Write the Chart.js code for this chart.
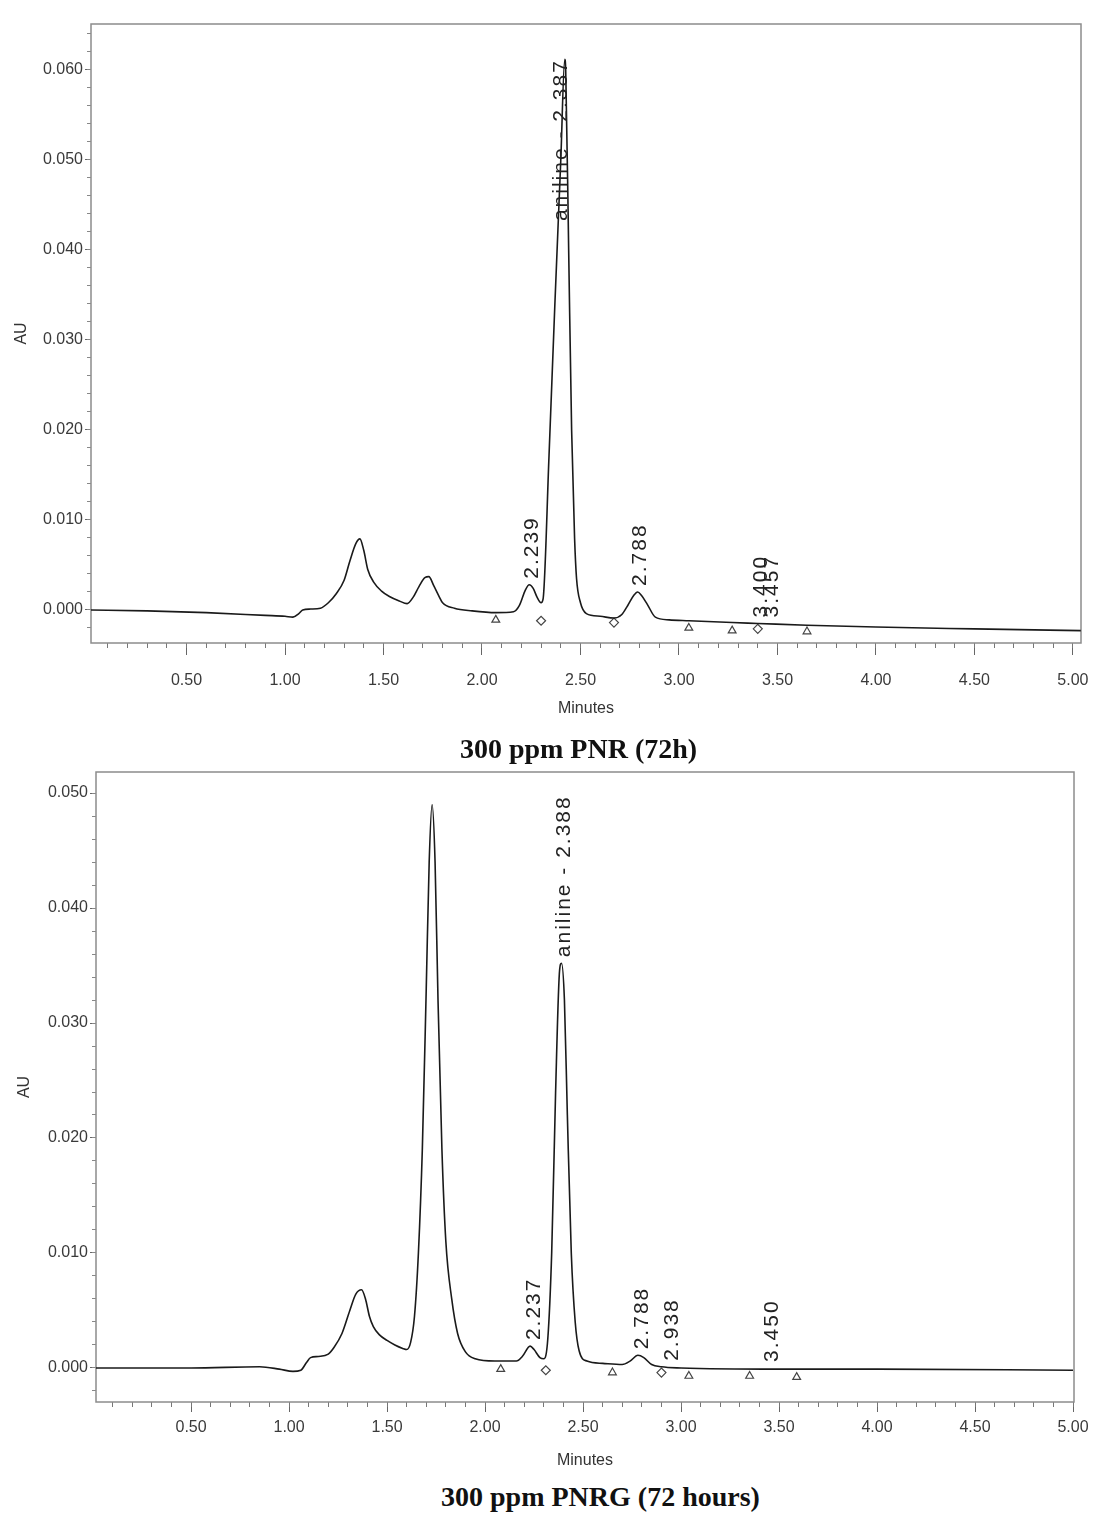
<!DOCTYPE html>
<html>
<head>
<meta charset="utf-8">
<script src="https://cdn.jsdelivr.net/npm/chart.js@4.4.1/dist/chart.umd.min.js"></script>
<style>
    body { margin: 0; background: #fff; width: 1093px; height: 1517px; position: relative; overflow: hidden; }
    .panel { position: absolute; left: 0; width: 1093px; }
    .titulo { position: absolute; width: 1093px; text-align: center; font: bold 28px "Liberation Serif", "Times New Roman", serif; line-height: 28px; color: #111; }
</style>
</head>
<body>
<div class="panel" style="top:0; height:730px;"><canvas id="grafico1" width="1093" height="730"></canvas></div>
<div class="panel" style="top:740px; height:740px;"><canvas id="grafico2" width="1093" height="740"></canvas></div>
<div class="titulo" style="top:735px; left:32px;">300 ppm PNR (72h)</div>
<div class="titulo" style="top:1483px; left:54px;">300 ppm PNRG (72 hours)</div>

<script>
// Cromatograma 1: 300 ppm PNR (72h)
const tiemposPNR = [0.00, 0.30, 0.60, 0.90, 1.00, 1.04, 1.07, 1.09, 1.13, 1.18, 1.22, 1.26, 1.30, 1.33, 1.36, 1.38, 1.40, 1.42, 1.45, 1.49,
    1.53, 1.58, 1.62, 1.65, 1.68, 1.71, 1.73, 1.755, 1.78, 1.80, 1.86, 1.95, 2.07, 2.16, 2.19, 2.22, 2.24, 2.26, 2.28, 2.30,
    2.31, 2.34, 2.37, 2.40, 2.42, 2.425, 2.44, 2.455, 2.47, 2.48, 2.50, 2.53, 2.60, 2.67, 2.71, 2.74, 2.77, 2.79, 2.81, 2.84,
    2.88, 2.95, 3.05, 3.27, 3.40, 3.65, 4.00, 4.50, 5.04];
const auPNR = [0.0000, -0.0001, -0.0003, -0.0006, -0.0007, -0.0008, -0.0004, 0.0000, 0.0001, 0.0002, 0.0008, 0.0018, 0.0033, 0.0055, 0.0074, 0.0079, 0.0066, 0.0045, 0.0031, 0.0021,
    0.0015, 0.0010, 0.0007, 0.0014, 0.0026, 0.0036, 0.0037, 0.0027, 0.0016, 0.0008, 0.0002, -0.0001, -0.0003, -0.0002, 0.0005, 0.0022, 0.0028, 0.0024, 0.0014, 0.0008,
    0.0012, 0.0170, 0.0340, 0.0500, 0.0612, 0.0600, 0.0400, 0.0200, 0.0080, 0.0035, 0.0008, -0.0004, -0.0007, -0.0009, -0.0005, 0.0005, 0.0016, 0.0020, 0.0016, 0.0006,
    -0.0008, -0.0011, -0.0012, -0.0014, -0.0015, -0.0017, -0.0019, -0.0021, -0.0023];
const marcasPNR_t = [2.07, 2.30, 2.67, 3.05, 3.27, 3.40, 3.65];
const marcasPNR_au = [-0.0011, -0.0012, -0.0014, -0.0020, -0.0023, -0.0021, -0.0024];
const marcasPNR_tipo = ['triangulo', 'rombo', 'rombo', 'triangulo', 'triangulo', 'rombo', 'triangulo'];
const picosPNR_texto = ['2.239', 'aniline - 2.387', '2.788', '3.400', '3.457'];
const picosPNR_t = [2.239, 2.387, 2.788, 3.400, 3.457];

// Cromatograma 2: 300 ppm PNRG (72 hours)
const tiemposPNRG = [0.00, 0.50, 0.85, 0.95, 1.02, 1.06, 1.09, 1.11, 1.15, 1.20, 1.23, 1.27, 1.31, 1.34, 1.37, 1.39, 1.41, 1.43, 1.46, 1.50,
    1.54, 1.58, 1.60, 1.62, 1.64, 1.66, 1.68, 1.70, 1.715, 1.73, 1.745, 1.76, 1.78, 1.80, 1.83, 1.86, 1.90, 1.95, 2.05, 2.16,
    2.19, 2.23, 2.25, 2.28, 2.30, 2.32, 2.34, 2.36, 2.38, 2.39, 2.405, 2.42, 2.44, 2.46, 2.48, 2.52, 2.60, 2.70, 2.74, 2.78,
    2.81, 2.85, 2.90, 3.00, 3.50, 4.00, 5.00];
const auPNRG = [0.0000, 0.0000, 0.0001, -0.0001, -0.0003, -0.0002, 0.0005, 0.0009, 0.0010, 0.0012, 0.0018, 0.0030, 0.0050, 0.0064, 0.0068, 0.0060, 0.0045, 0.0036, 0.0029, 0.0024,
    0.0020, 0.0017, 0.0016, 0.0022, 0.0045, 0.0100, 0.0190, 0.0330, 0.0440, 0.0490, 0.0440, 0.0320, 0.0190, 0.0110, 0.0060, 0.0030, 0.0014, 0.0008, 0.0006, 0.0006,
    0.0010, 0.0019, 0.0016, 0.0009, 0.0008, 0.0025, 0.0100, 0.0240, 0.0345, 0.0352, 0.0320, 0.0220, 0.0100, 0.0040, 0.0015, 0.0006, 0.0004, 0.0003, 0.0006, 0.0011,
    0.0009, 0.0003, 0.0001, 0.0000, -0.0001, -0.0001, -0.0002];
const marcasPNRG_t = [2.08, 2.31, 2.65, 2.90, 3.04, 3.35, 3.59];
const marcasPNRG_au = [-0.0001, -0.0002, -0.0004, -0.0004, -0.0007, -0.0007, -0.0008];
const marcasPNRG_tipo = ['triangulo', 'rombo', 'triangulo', 'rombo', 'triangulo', 'triangulo', 'triangulo'];
const picosPNRG_texto = ['2.237', 'aniline - 2.388', '2.788', '2.938', '3.450'];
const picosPNRG_t = [2.237, 2.388, 2.788, 2.938, 3.450];

const fuente = '"Liberation Sans", Arial, sans-serif';
const colorTexto = '#3a3a3a';

// altura maxima de la traza cerca de un tiempo dado
const cimaCerca = (tiempos, valores, t, ventana) => {
    let max = -Infinity;
    tiempos.forEach((ti, i) => {
        if (Math.abs(ti - t) <= ventana && valores[i] > max) max = valores[i];
    });
    if (max === -Infinity) {
        const j = tiempos.findIndex(ti => ti > t);
        max = valores[Math.max(j - 1, 0)];
    }
    return max;
};

const crearPlugin = (tiempos, valores, textos, tiemposPico) => ({
    id: 'marcoYPicos',
    beforeDatasetsDraw(chart) {
        const { ctx, chartArea: a } = chart;
        ctx.save();
        ctx.strokeStyle = '#8c8c8c';
        ctx.lineWidth = 1.5;
        ctx.strokeRect(a.left, a.top, a.right - a.left, a.bottom - a.top);
        ctx.restore();
    },
    afterDatasetsDraw(chart) {
        const { ctx, chartArea: a, scales } = chart;
        ctx.save();
        ctx.font = '21px ' + fuente;
        if ('letterSpacing' in ctx) ctx.letterSpacing = '2px';
        ctx.fillStyle = '#222';
        ctx.textBaseline = 'middle';
        ctx.textAlign = 'left';
        textos.forEach((texto, i) => {
            const t = tiemposPico[i];
            const cima = cimaCerca(tiempos, valores, t, 0.04);
            const px = scales.x.getPixelForValue(t) + 3;
            const py = scales.y.getPixelForValue(cima);
            const largo = ctx.measureText(texto).width;
            let inicio = py - 6;
            if (inicio - largo < a.top + 4) inicio = py + largo;
            ctx.save();
            ctx.translate(px, inicio);
            ctx.rotate(-Math.PI / 2);
            ctx.fillText(texto, 0, 0);
            ctx.restore();
        });
        ctx.restore();
    }
});

// quita el relleno que Chart.js reserva para las etiquetas de los extremos
const sinRelleno = s => { s.paddingLeft = 0; s.paddingRight = 0; s.paddingTop = 0; s.paddingBottom = 0; };

const crearCromatograma = (id, tiempos, valores, marcasT, marcasAU, marcasTipo, textos, tiemposPico, ejes) => {
    const ctx = document.getElementById(id).getContext('2d');
    return new Chart(ctx, {
        type: 'line',
        data: {
            datasets: [{
                label: 'AU',
                data: tiempos.map((t, i) => ({ x: t, y: valores[i] })),
                borderColor: '#1a1a1a',
                borderWidth: 1.6,
                pointRadius: 0,
                cubicInterpolationMode: 'monotone',
                fill: false
            }, {
                type: 'scatter',
                label: 'marcas',
                data: marcasT.map((t, i) => ({ x: t, y: marcasAU[i] })),
                pointStyle: marcasTipo.map(m => m === 'triangulo' ? 'triangle' : 'rectRot'),
                pointRadius: 4.5,
                borderColor: '#444',
                backgroundColor: '#fff',
                borderWidth: 1.2
            }]
        },
        options: {
            responsive: false,
            animation: false,
            layout: { padding: { top: ejes.arriba, right: ejes.derecha, left: 0, bottom: 0 } },
            plugins: { legend: { display: false }, tooltip: { enabled: false } },
            scales: {
                x: {
                    type: 'linear', position: 'bottom', weight: 1,
                    min: ejes.xMin, max: ejes.xMax,
                    ticks: {
                        stepSize: 0.5, includeBounds: false, autoSkip: false, maxRotation: 0,
                        padding: ejes.xPad, color: colorTexto, font: { size: 16, family: fuente },
                        callback: v => v.toFixed(2)
                    },
                    grid: { drawOnChartArea: false, tickLength: ejes.xTick, color: '#666' },
                    border: { display: false },
                    title: { display: true, text: 'Minutes', color: '#333', font: { size: 16, family: fuente }, padding: { top: 0, bottom: ejes.minPad } },
                    afterFit: s => { s.height = ejes.altoX; sinRelleno(s); }
                },
                xMenor: {
                    type: 'linear', position: 'bottom', weight: 0,
                    min: ejes.xMin, max: ejes.xMax,
                    ticks: { stepSize: 0.1, includeBounds: false, autoSkip: false, display: false },
                    grid: { drawOnChartArea: false, tickLength: 5, color: '#777' },
                    border: { display: false },
                    afterFit: s => { s.height = 0; sinRelleno(s); }
                },
                y: {
                    type: 'linear', position: 'left', weight: 1,
                    min: ejes.yMin, max: ejes.yMax,
                    ticks: {
                        stepSize: 0.01, includeBounds: false, autoSkip: false,
                        padding: 2, color: colorTexto, font: { size: 16, family: fuente },
                        callback: v => v.toFixed(3)
                    },
                    grid: { drawOnChartArea: false, tickLength: 6, color: '#666' },
                    border: { display: false },
                    title: { display: true, text: 'AU', color: '#333', font: { size: 16, family: fuente }, padding: { top: ejes.auPad, bottom: 0 } },
                    afterFit: s => { s.width = ejes.anchoY; sinRelleno(s); }
                },
                yMenor: {
                    type: 'linear', position: 'left', weight: 0,
                    min: ejes.yMin, max: ejes.yMax,
                    ticks: { stepSize: 0.002, includeBounds: false, autoSkip: false, display: false },
                    grid: { drawOnChartArea: false, tickLength: 4, color: '#888' },
                    border: { display: false },
                    afterFit: s => { s.width = 0; sinRelleno(s); }
                }
            }
        },
        plugins: [crearPlugin(tiempos, valores, textos, tiemposPico)]
    });
};

crearCromatograma('grafico1', tiemposPNR, auPNR, marcasPNR_t, marcasPNR_au, marcasPNR_tipo, picosPNR_texto, picosPNR_t, {
    arriba: 24, derecha: 12, anchoY: 91, altoX: 87,
    xMin: 0.015, xMax: 5.041, yMin: -0.00367, yMax: 0.06511,
    xTick: 12, xPad: 16, minPad: 12, auPad: 12
});

crearCromatograma('grafico2', tiemposPNRG, auPNRG, marcasPNRG_t, marcasPNRG_au, marcasPNRG_tipo, picosPNRG_texto, picosPNRG_t, {
    arriba: 32, derecha: 19, anchoY: 96, altoX: 78,
    xMin: 0.015, xMax: 5.005, yMin: -0.00296, yMax: 0.05183,
    xTick: 10, xPad: 6, minPad: 10, auPad: 15
});
</script>
</body>
</html>
